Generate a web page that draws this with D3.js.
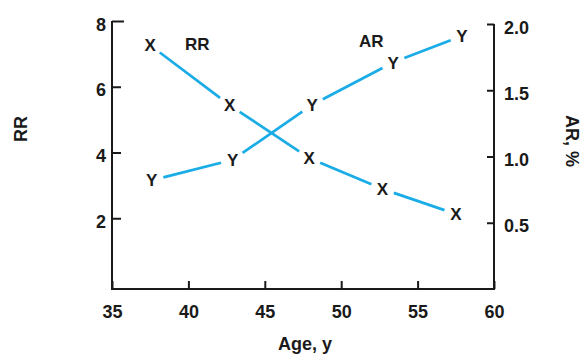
<!DOCTYPE html>
<html><head><meta charset="utf-8">
<script src="https://cdn.jsdelivr.net/npm/d3@7"></script>
<style>
html,body{margin:0;padding:0;background:#fff;}
svg text{font-family:"Liberation Sans",Arial,sans-serif;font-weight:bold;fill:#1a1a1a;}
</style></head>
<body>
<svg id="c" width="582" height="355"></svg>
<script>
// Data
const rrAges = [37.5, 42.7, 47.9, 52.7, 57.5];
const rrValues = [7.26, 5.44, 3.83, 2.89, 2.13];
const arAges = [37.6, 42.9, 48.1, 53.4, 57.9];
const arValues = [0.82, 0.975, 1.39, 1.71, 1.91];
const xTicks = [35, 40, 45, 50, 55, 60];
const rrTicks = [2, 4, 6, 8];
const arTicks = [0.5, 1.0, 1.5, 2.0];

const svg = d3.select("#c");
const L = 112, R = 494, B = 289;
const x = d3.scaleLinear().domain([35, 60]).range([L, R]);
const yL = d3.scaleLinear().domain([0, 8]).range([284, 21]);
const yR = d3.scaleLinear().domain([0, 2]).range([289, 24]);
const ink = "#1a1a1a";

// frame
svg.append("path")
  .attr("d", `M${L},${yL(8)}V${B}H${R}V${yR(2)}`)
  .attr("fill", "none").attr("stroke", ink).attr("stroke-width", 2);

// axes
const gx = svg.append("g").attr("transform", `translate(0,${B})`)
  .call(d3.axisBottom(x).tickValues(xTicks).tickSize(-8).tickSizeOuter(0).tickPadding(16));
const gl = svg.append("g").attr("transform", `translate(${L},0)`)
  .call(d3.axisLeft(yL).tickValues(rrTicks).tickSize(-9).tickSizeOuter(0).tickPadding(6));
const gr = svg.append("g").attr("transform", `translate(${R},0)`)
  .call(d3.axisRight(yR).tickValues(arTicks).tickFormat(d3.format(".1f")).tickSize(-7).tickSizeOuter(0).tickPadding(10));
[gx, gl, gr].forEach(g => {
  g.select(".domain").remove();
  g.selectAll(".tick line").attr("stroke", ink).attr("stroke-width", 2);
  g.selectAll(".tick text").style("font-size", "18px").attr("fill", ink);
});
gl.selectAll(".tick text").attr("dy", "0.5em");
gr.selectAll(".tick text").attr("dy", "0.5em");
// longer top bracket on left axis
gl.selectAll(".tick line").filter(d => d === 8).attr("x2", 12);

// axis titles
svg.append("text").attr("transform", "translate(27,129) rotate(-90)")
  .attr("text-anchor", "middle").style("font-size", "18px").text("RR");
svg.append("text").attr("transform", "translate(566,141) rotate(90)")
  .attr("text-anchor", "middle").style("font-size", "18px").text("AR, %");
svg.append("text").attr("x", 305).attr("y", 350)
  .attr("text-anchor", "middle").style("font-size", "18px").text("Age, y");

// series
function drawSeries(ages, vals, yScale, glyph) {
  const pts = ages.map((a, i) => [x(a), yScale(vals[i])]);
  const gap = 12;
  for (let i = 0; i < pts.length - 1; i++) {
    const [x1, y1] = pts[i], [x2, y2] = pts[i + 1];
    const dx = x2 - x1, dy = y2 - y1, len = Math.hypot(dx, dy);
    const ux = dx / len, uy = dy / len;
    svg.append("line")
      .attr("x1", x1 + ux * gap).attr("y1", y1 + uy * gap)
      .attr("x2", x2 - ux * gap).attr("y2", y2 - uy * gap)
      .attr("stroke", "#19ace6").attr("stroke-width", 2.7);
  }
  svg.selectAll(null).data(pts).enter().append("text")
    .attr("x", d => d[0]).attr("y", d => d[1])
    .attr("text-anchor", "middle").attr("dy", "0.36em")
    .style("font-size", "17px").text(glyph);
}
drawSeries(rrAges, rrValues, yL, "X");
drawSeries(arAges, arValues, yR, "Y");

// series labels
svg.append("text").attr("x", 185).attr("y", 50).style("font-size", "17px").text("RR");
svg.append("text").attr("x", 359).attr("y", 47).style("font-size", "17px").text("AR");
</script>
</body></html>
